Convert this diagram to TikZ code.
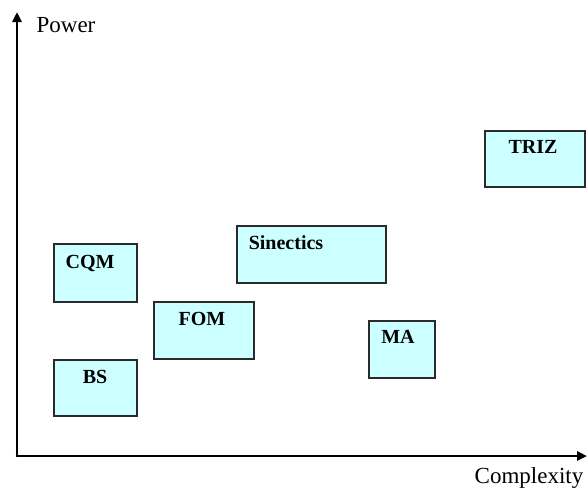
\documentclass[tikz,border=0pt]{standalone}
\usepackage{fontspec}
\setmainfont{Liberation Serif}
\usetikzlibrary{arrows.meta}
\definecolor{boxfill}{HTML}{CCFFFF}
\definecolor{boxline}{HTML}{2A2A2A}
\begin{document}
\begin{tikzpicture}[x=1pt,y=-1pt,
  box/.style={draw=boxline,line width=1.8pt,fill=boxfill,rectangle,anchor=north west,inner sep=0pt},
  lab/.style={font=\fontsize{20}{21}\selectfont\bfseries,inner sep=0pt},
  axlab/.style={font=\fontsize{23}{24}\selectfont,inner sep=0pt},
  axis/.style={line width=2.8pt,-{Triangle[length=10pt,width=9pt]}}]
\useasboundingbox (0,0) rectangle (588,491);
% axes
\coordinate (origin) at (17,456);
\coordinate (ytip) at (17,12);
\coordinate (xtip) at (587,456);
\draw[axis] ([yshift=-1.4pt]origin) -- (ytip);
\draw[axis] ([xshift=-1.4pt]origin) -- (xtip);
\node[axlab] (power) at (66,25) {Power};
\node[axlab] (complexity) at (529,478) {Complexity};
% boxes
\node[box,minimum width=83pt,minimum height=58pt] (cqm) at (53,243) {};
\node[box,minimum width=83pt,minimum height=56pt] (bs) at (53,359) {};
\node[box,minimum width=100pt,minimum height=57pt] (fom) at (153,301) {};
\node[box,minimum width=149pt,minimum height=57pt] (sin) at (236,225) {};
\node[box,minimum width=66pt,minimum height=57pt] (ma) at (368,320) {};
\node[box,minimum width=100pt,minimum height=56pt] (triz) at (484,130) {};
% labels
\node[lab] (cqmt) at (90,263) {CQM};
\node[lab] (bst) at (95,377) {BS};
\node[lab] (fomt) at (202,319) {FOM};
\node[lab] (sint) at (286,243) {Sinectics};
\node[lab] (mat) at (398,337) {MA};
\node[lab] (trizt) at (533,147) {TRIZ};
\end{tikzpicture}
\end{document}
